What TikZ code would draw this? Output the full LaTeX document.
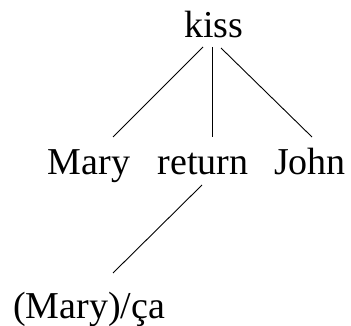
\documentclass[tikz,border=0pt]{standalone}
\usepackage{fontspec}
\setmainfont{Liberation Serif}
\usepackage{tikz}
\usetikzlibrary{calc}

\begin{document}
\begin{tikzpicture}[
  x=1pt, y=-1pt,
  every node/.style={font=\fontsize{38}{44}\selectfont, inner sep=0pt, anchor=base},
  branch/.style={draw=black, line width=0.9pt}
]
\useasboundingbox (0,0) rectangle (351,326);
\node (kiss) at (214,38) {kiss};
\node (mary) at (89,175) {Mary};
\node (return) at (203,175) {return};
\node (john) at (310,175) {John};
\node (maryca) at (89,318) {(Mary)/ça};
% branches below kiss
\draw[branch] ($(kiss.base)+(-11,9)$) -- ($(mary.base)+(24,-38)$);
\draw[branch] ($(kiss.base)+(-2,9)$) -- ($(return.base)+(9,-38)$);
\draw[branch] ($(kiss.base)+(7,10)$) -- ($(john.base)+(2,-38)$);
% branch below return
\draw[branch] ($(return.base)+(-1,10)$) -- ($(maryca.base)+(24,-45)$);
\end{tikzpicture}
\end{document}
